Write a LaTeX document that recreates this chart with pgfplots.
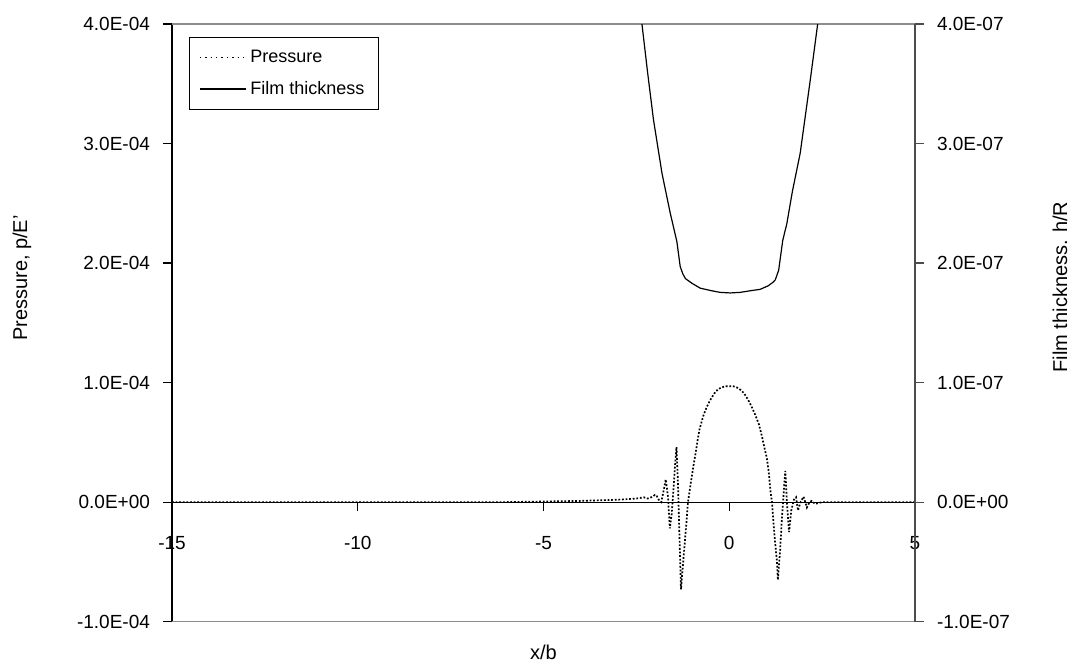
\documentclass[border=0pt]{standalone}
\usepackage{fontspec}
\setmainfont{Liberation Sans}
\usepackage{pgfplots}
\pgfplotsset{compat=1.18}

% pressure p/E' against x/b
\pgfplotstableread{
x p
-15 0
-6 0
-5 0.5e-6
-4 1.0e-6
-3 2.0e-6
-2.5 3.0e-6
-2.3 4e-6
-2.2 3e-6
-2.1 4e-6
-2.0 6e-6
-1.95 5e-6
-1.9 2e-6
-1.83 0
-1.77 9e-6
-1.71 1.9e-5
-1.65 5e-6
-1.60 -2.2e-5
-1.55 -1.0e-5
-1.50 1.2e-5
-1.45 3.5e-5
-1.42 4.6e-5
-1.38 1.5e-5
-1.35 -1.8e-5
-1.32 -5.0e-5
-1.30 -7.3e-5
-1.25 -5.4e-5
-1.20 -3.5e-5
-1.15 -1.6e-5
-1.11 0
-1.05 1.3e-5
-1.00 2.3e-5
-0.95 3.3e-5
-0.90 4.2e-5
-0.85 5.2e-5
-0.80 6.1e-5
-0.70 7.2e-5
-0.60 8.0e-5
-0.50 8.6e-5
-0.40 9.1e-5
-0.30 9.45e-5
-0.20 9.6e-5
-0.10 9.7e-5
0 9.7e-5
0.10 9.7e-5
0.20 9.6e-5
0.30 9.4e-5
0.40 9.1e-5
0.50 8.6e-5
0.60 8.0e-5
0.70 7.3e-5
0.80 6.5e-5
0.88 5.5e-5
0.95 4.5e-5
1.01 3.7e-5
1.06 2.6e-5
1.11 0.9e-5
1.15 0
1.22 -2.9e-5
1.28 -4.85e-5
1.31 -6.5e-5
1.37 -4.0e-5
1.42 -1.2e-5
1.47 1.0e-5
1.51 2.6e-5
1.55 0.1e-5
1.61 -2.5e-5
1.67 -0.7e-5
1.74 0.2e-5
1.80 0.4e-5
1.85 -0.7e-5
1.92 0
2.00 0.45e-5
2.09 -0.45e-5
2.16 0
2.22 0.1e-5
2.31 -0.15e-5
2.50 0
5 0
}\pressure

% film thickness h/R against x/b
\pgfplotstableread{
x h
-2.45 4.2e-7
-2.35 4.0e-7
-2.20 3.6e-7
-2.04 3.20e-7
-1.81 2.75e-7
-1.59 2.42e-7
-1.41 2.18e-7
-1.32 1.97e-7
-1.25 1.91e-7
-1.18 1.87e-7
-1.00 1.83e-7
-0.78 1.79e-7
-0.50 1.77e-7
-0.25 1.755e-7
0.03 1.75e-7
0.30 1.755e-7
0.60 1.77e-7
0.83 1.78e-7
1.05 1.81e-7
1.18 1.84e-7
1.24 1.86e-7
1.33 1.94e-7
1.44 2.19e-7
1.55 2.33e-7
1.70 2.60e-7
1.91 2.92e-7
2.18 3.53e-7
2.38 4.0e-7
2.48 4.2e-7
}\film

\pgfplotsset{
  legend image code/.code={\draw[#1] (0pt,0pt) -- (23pt,0pt);},
}

\begin{document}
\begin{tikzpicture}[font=\fontsize{9.5}{11.4}\selectfont]

\begin{axis}[
  scale only axis, width=371.5pt, height=298.8pt,
  xmin=-15, xmax=5, ymin=-1e-4, ymax=4e-4,
  axis x line=middle, axis y line=left,
  every inner x axis line/.append style={-},
  every outer y axis line/.append style={-},
  axis line style={black, line width=0.6pt},
  xtick={-15,-10,-5,0,5}, xticklabels={-15,-10,-5,0,5},
  ytick={-1e-4,0,1e-4,2e-4,3e-4,4e-4},
  yticklabels={-1.0E-04,0.0E+00,1.0E-04,2.0E-04,3.0E-04,4.0E-04},
  scaled y ticks=false,
  tick align=outside, major tick length=4.5pt,
  tick style={black, line width=0.6pt},
  hide obscured x ticks=false,
  xticklabel style={yshift=-9pt},
  yticklabel style={xshift=-3pt},
  clip mode=individual,
]
\draw[black!45, line width=0.6pt] (rel axis cs:0,1) -- (rel axis cs:1,1);
\draw[black!45, line width=0.6pt] (rel axis cs:0,0) -- (rel axis cs:1,0);
\addplot[black, line width=0.85pt, dash pattern=on 0.9pt off 0.9pt] table {\pressure};
\node[rotate=90, font=\fontsize{10}{12}\selectfont] at (rel axis cs:-0.202,0.575) {Pressure, p/E'};
\node[font=\fontsize{10}{12}\selectfont] at (rel axis cs:0.5,-0.051) {x/b};
\coordinate (bl) at (rel axis cs:-0.2315,-0.0758);
\coordinate (tr) at (rel axis cs:1.2288,1.0402);
\end{axis}

\begin{axis}[
  scale only axis, width=371.5pt, height=298.8pt,
  xmin=-15, xmax=5, ymin=-1e-7, ymax=4e-7,
  axis x line=none, axis y line=right,
  every outer y axis line/.append style={-},
  axis line style={black!70, line width=0.6pt},
  ytick={-1e-7,0,1e-7,2e-7,3e-7,4e-7},
  yticklabels={-1.0E-07,0.0E+00,1.0E-07,2.0E-07,3.0E-07,4.0E-07},
  scaled y ticks=false,
  tick align=outside, major tick length=4.5pt,
  tick style={black!70, line width=0.6pt},
  yticklabel style={xshift=3pt},
  clip mode=individual,
  legend style={at={(axis description cs:0.0223,0.978)}, anchor=north west,
    draw=black, line width=0.5pt, inner xsep=5pt, inner ysep=4pt,
    row sep=4pt, font=\fontsize{9}{10.8}\selectfont},
  legend cell align=left,
]
\addlegendimage{black, line width=0.7pt, dotted}
\addlegendentry{Pressure}
\addplot[black, line width=0.6pt] table {\film};
\addlegendentry{Film thickness}
\node[rotate=90, font=\fontsize{10}{12}\selectfont] at (rel axis cs:1.195,0.56) {Film thickness. h/R};
\end{axis}

\pgfresetboundingbox
\useasboundingbox (bl) rectangle (tr);
\end{tikzpicture}
\end{document}
